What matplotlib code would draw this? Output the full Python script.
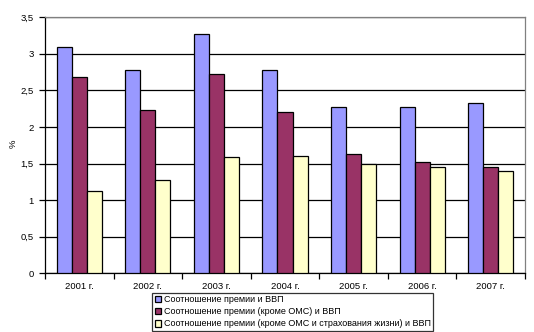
import matplotlib.pyplot as plt
import numpy as np
from matplotlib.ticker import FuncFormatter, MultipleLocator

plt.rcParams["font.family"] = ["Liberation Sans", "DejaVu Sans"]

years = ["2001 г.", "2002 г.", "2003 г.", "2004 г.", "2005 г.", "2006 г.", "2007 г."]
premium_gdp = [3.09, 2.78, 3.27, 2.78, 2.27, 2.27, 2.33]
premium_no_oms = [2.68, 2.23, 2.72, 2.20, 1.63, 1.52, 1.46]
premium_no_oms_life = [1.12, 1.27, 1.59, 1.60, 1.50, 1.46, 1.40]
series_labels = [
    "Соотношение премии и ВВП",
    "Соотношение премии (кроме ОМС) и ВВП",
    "Соотношение премии (кроме ОМС и страхования жизни) и ВВП",
]
colors = ["#9999ff", "#993366", "#ffffcc"]

fig = plt.figure(figsize=(5.34, 3.32), dpi=100)
ax = fig.add_axes([45 / 534, 1 - 273.3 / 332, 480 / 534, 256 / 332])

x = np.arange(len(years))
width = 0.219
series = [premium_gdp, premium_no_oms, premium_no_oms_life]
handles = []
for i, (values, color, label) in enumerate(zip(series, colors, series_labels)):
    bars = ax.bar(x + (i - 1) * width, values, width, color=color,
                  edgecolor="black", linewidth=0.9, label=label, zorder=3)
    handles.append(bars)

ax.set_xlim(-0.5, len(years) - 0.5)
ax.set_ylim(0, 3.5)
ax.yaxis.set_major_locator(MultipleLocator(0.5))
ax.yaxis.set_major_formatter(FuncFormatter(lambda v, _: f"{v:g}".replace(".", ",")))
ax.grid(axis="y", color="black", linewidth=0.9, zorder=0)

ax.set_xticks(x)
ax.set_xticklabels(years)
ax.set_xticks(np.arange(-0.5, len(years)), minor=True)
ax.tick_params(axis="x", which="major", length=0, pad=6, labelsize=6.8)
ax.tick_params(axis="x", which="minor", length=4, width=0.9, direction="out")
ax.tick_params(axis="y", length=4, width=0.9, direction="out", labelsize=6.8, pad=4)
fig.text(13 / 534, 1 - 144 / 332, "%", fontsize=6.8, rotation=90,
         ha="center", va="center")

for side in ("top", "right"):
    ax.spines[side].set_color("#808080")
    ax.spines[side].set_linewidth(0.9)
for side in ("left", "bottom"):
    ax.spines[side].set_linewidth(0.9)

leg = fig.legend(handles=handles, labels=series_labels, loc="upper left",
                 bbox_to_anchor=(152 / 534, 1 - 292.5 / 332), fontsize=6.45,
                 frameon=True, fancybox=False, edgecolor="black",
                 handlelength=0.75, handleheight=0.75, handletextpad=0.25,
                 borderpad=0.3, labelspacing=0.35, borderaxespad=0)
leg.get_frame().set_linewidth(0.9)

fig.savefig("out.png", dpi=100)
